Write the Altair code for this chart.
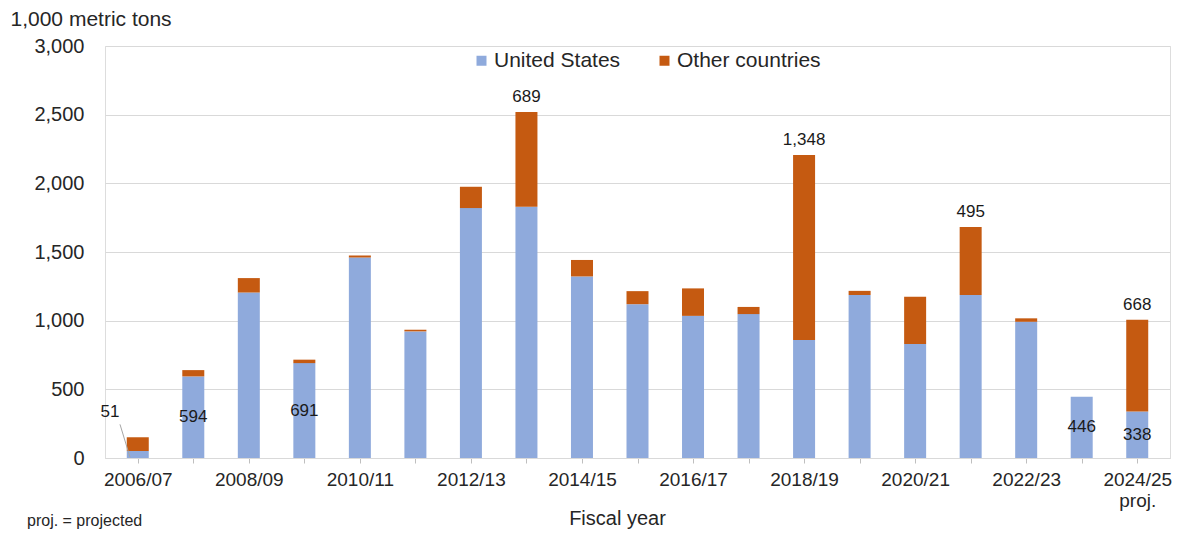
import json
import altair as alt
import pandas as pd

years = ["2006/07", "2007/08", "2008/09", "2009/10", "2010/11", "2011/12", "2012/13",
         "2013/14", "2014/15", "2015/16", "2016/17", "2017/18", "2018/19", "2019/20",
         "2020/21", "2021/22", "2022/23", "2023/24", "2024/25"]
us = [51, 594, 1205, 691, 1460, 922, 1820, 1830, 1322, 1120, 1035, 1048, 859, 1187,
      830, 1187, 992, 446, 338]
other = [100, 46, 105, 25, 15, 12, 155, 689, 120, 95, 200, 52, 1348, 30, 345, 495, 25, 0, 668]

series = ["United States", "Other countries"]
colors = ["#8FAADC", "#C55A11"]

# labelled values
us_label_idx = [1, 3, 17, 18]
other_label_idx = [7, 12, 15, 18]
# callout for the small first US value: label point and leader line ends (data coordinates)
callout_label = {"x": -0.5, "y": 335, "text": "51"}
callout_line = {"x": -0.32, "y": 245, "x2": -0.14, "y2": 6}
footnote = ["proj. = projected"]

tick_labels = years[:-1] + [["2024/25", "proj."]]

rows = []
for i, y in enumerate(years):
    rows.append({"idx": i, "year": y, "series": series[0], "value": us[i], "order": 0})
    rows.append({"idx": i, "year": y, "series": series[1], "value": other[i], "order": 1})
df = pd.DataFrame(rows)

us_lab = pd.DataFrame({"idx": us_label_idx,
                       "pos": [us[i] / 2 for i in us_label_idx],
                       "text": [f"{us[i]:,}" for i in us_label_idx]})
oth_lab = pd.DataFrame({"idx": other_label_idx,
                        "pos": [us[i] + other[i] for i in other_label_idx],
                        "text": [f"{other[i]:,}" for i in other_label_idx]})
call_lab = pd.DataFrame([callout_label])
call_line = pd.DataFrame([callout_line])
note_df = pd.DataFrame({"text": footnote})

FONT = "Liberation Sans"
TXT = "#262626"

label_expr = f"datum.value % 2 == 0 ? {json.dumps(tick_labels)}[datum.value] : ''"

x_enc = alt.X("idx:Q",
              scale=alt.Scale(domain=[-0.5, len(years) - 0.5], nice=False, zero=False),
              axis=alt.Axis(values=list(range(len(years))), labelExpr=label_expr,
                            grid=False, domainColor="#d9d9d9", tickColor="#bfbfbf",
                            tickSize=5, labelPadding=7, labelFontSize=19, labelColor=TXT,
                            labelFont=FONT, labelLineHeight=21,
                            title="Fiscal year", titleFont=FONT, titleFontSize=20,
                            titleFontWeight="normal", titleColor=TXT,
                            titleX=512, titleY=66, titleBaseline="alphabetic",
                            titleAlign="center", titleAnchor="start"))
y_scale = alt.Scale(domain=[0, 3000], nice=False)

bars = alt.Chart(df).mark_bar(size=22).encode(
    x=x_enc,
    y=alt.Y("sum(value):Q", scale=y_scale, stack="zero",
            axis=alt.Axis(values=list(range(0, 3001, 500)), format=",.0f", grid=True,
                          gridColor="#d9d9d9", domain=False, ticks=False,
                          labelPadding=21, labelFontSize=20, labelColor=TXT, labelFont=FONT,
                          title="1,000 metric tons", titleAngle=0, titleAlign="left",
                          titleX=-95, titleY=-27, titleBaseline="middle",
                          titleFont=FONT, titleFontSize=21, titleFontWeight="normal",
                          titleColor=TXT)),
    color=alt.Color("series:N", scale=alt.Scale(domain=series, range=colors),
                    sort=series,
                    legend=alt.Legend(orient="none", legendX=366, legendY=4,
                                      direction="horizontal", title=None,
                                      symbolType="square", symbolSize=100,
                                      symbolStrokeWidth=0, labelFontSize=21,
                                      labelFont=FONT, labelColor=TXT, columnPadding=33,
                                      labelOffset=2, padding=0)),
    order=alt.Order("order:Q"),
)

us_text = alt.Chart(us_lab).mark_text(fontSize=17, font=FONT, color="#1a1a1a",
                                      baseline="middle").encode(
    x=alt.X("idx:Q"), y=alt.Y("pos:Q"), text="text:N")
oth_text = alt.Chart(oth_lab).mark_text(fontSize=17, font=FONT, color="#1a1a1a",
                                        baseline="bottom", dy=-6).encode(
    x=alt.X("idx:Q"), y=alt.Y("pos:Q"), text="text:N")
call_text = alt.Chart(call_lab).mark_text(fontSize=17, font=FONT, color="#1a1a1a",
                                          baseline="middle").encode(
    x=alt.X("x:Q"), y=alt.Y("y:Q"), text="text:N")
call_rule = alt.Chart(call_line).mark_rule(color="#a6a6a6", strokeWidth=1).encode(
    x=alt.X("x:Q"), y=alt.Y("y:Q"), x2="x2:Q", y2="y2:Q")
note = alt.Chart(note_df).mark_text(fontSize=16, font=FONT, color=TXT, align="left",
                                    baseline="alphabetic").encode(
    x=alt.value(-78), y=alt.value(480), text="text:N")

chart = alt.layer(bars, call_rule, us_text, oth_text, call_text, note).properties(
    width=1065, height=412,
    autosize=alt.AutoSizeParams(type="none"),
    padding={"left": 97, "top": 38, "right": 3, "bottom": 75},
).configure_view(stroke=None).configure(background="white")

chart.save("out.html", embed_options={"renderer": "svg", "actions": False})
